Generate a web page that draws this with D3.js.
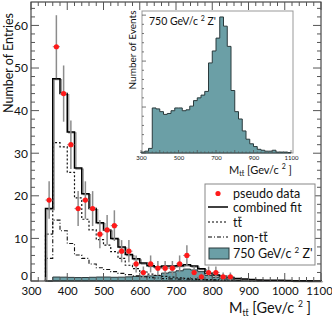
<!DOCTYPE html>
<html><head><meta charset="utf-8">
<script src="https://cdn.jsdelivr.net/npm/d3@7"></script>
<style>
body{margin:0;background:#fff;}
svg text{font-family:Lato,"Open Sans",sans-serif;fill:#111;white-space:pre;}
</style></head>
<body><svg id="c" width="332" height="321"></svg>
<script>
// ---------- data ----------
const binWidth = 20;
const mainBinStart = 340;
const combinedFit = [17,47.5,44,35,26.5,20.5,17,13.7,12,10,8,6.2,5.2,4.2,3.6,3.3,3.5,3.5,3.6,3.8,3.5,2.9,1.9,1.4,1.1,0.8,0.6,0.45,0.35,0.25,0.2,0.15,0.15,0.12,0.08,0.06,0.05,0.04];
const ttbar = [11,32.5,31.5,25.5,19.5,14.5,12,9.7,8.4,6.9,5.3,3.7,2.9,2.1,1.6,1.3,1.1,0.9,0.75,0.6,0.5,0.4,0.33,0.27,0.22,0.18,0.15,0.12,0.1,0.08,0.06,0.05,0.04,0.03,0.02,0.02,0.01,0.01];
const nonTtbar = [5.3,14.3,11.8,8.8,6.1,5.3,4.0,3.1,2.7,2.2,1.8,1.5,1.2,1.0,0.8,0.7,0.55,0.5,0.45,0.4,0.35,0.3,0.27,0.24,0.2,0.18,0.15,0.13,0.11,0.09,0.08,0.07,0.06,0.05,0.04,0.04,0.03,0.03];
const zprimeMain = [0,0.93,0.9,0.85,0.8,0.82,0.87,0.93,0.93,0.87,0.9,0.97,1.08,1.14,1.2,1.27,1.86,2.1,2.4,2.8,2.6,2.2,1.3,0.85,0.7,0.46,0.29,0.19,0.13,0.08,0.06,0.04,0.04,0.06,0.02,0.02,0.02,0.01];
const dataCenters = [350,370,390,410,430,450,470,490,510,530,550,570,590,610,630,650,670,690,710,730,750,770,790,810,830,850];
const dataValues = [19,55,44,32,17,19,17,11,12,13,7,7,4,2,4,3,3,3,4,6,2,1,2,2,1,1];
const dataErrors = [4.4,7.4,6.6,5.7,4.1,4.4,4.1,3.3,3.5,3.6,2.6,2.6,2,1.4,2,1.7,1.7,1.7,2,2.4,1.4,1,1.4,1.4,1,1];
const insetBinStart = 300;
const insetCounts = [1,2,5,49,48,45,42,43,46,49,49,46,47,51,57,60,63,67,98,111,125,148,138,116,68,45,37,24,15,10,7,4,3,2,2,3,1,1,1,0.5];
const xTicks = [300,400,500,600,700,800,900,1000,1100];
const yTicks = [0,10,20,30,40,50,60];
const insetXTicks = [300,500,700,900,1100];

// ---------- layout ----------
const svg = d3.select("#c");
const x = d3.scaleLinear().domain([300,1100]).range([31,321]);
const y = d3.scaleLinear().domain([0,65.5]).range([281,2]);
const TEAL = "#6b9fa6";

function stepPoints(start, vals, xs, ys){
  const pts = [[xs(start), ys(0)]];
  vals.forEach((v,i)=>{
    const a = start + i*binWidth;
    pts.push([xs(a), ys(v)], [xs(a+binWidth), ys(v)]);
  });
  pts.push([xs(start+vals.length*binWidth), ys(0)]);
  return pts;
}
const line = d3.line();

// rich text: pieces {t, size, dy, over}; anchor "start" or "end"
function rich(parent, xx, yy, pieces, anchor){
  const g = parent.append("g");
  let cx = 0;
  pieces.forEach(p=>{
    const el = g.append("text").attr("x",cx).attr("y",p.dy||0).attr("font-size",p.size)
      .attr("xml:space","preserve").style("white-space","pre").text(p.t);
    const w = el.node().getComputedTextLength();
    if(p.over){
      g.append("line").attr("x1",cx+0.5).attr("x2",cx+w-0.5)
        .attr("y1",(p.dy||0)-p.size*0.78).attr("y2",(p.dy||0)-p.size*0.78)
        .attr("stroke","#111").attr("stroke-width",Math.max(0.7,p.size*0.07));
    }
    cx += w;
  });
  const ox = anchor==="end" ? xx-cx : xx;
  g.attr("transform",`translate(${ox},${yy})`);
  return g;
}
function massPieces(big, sub){
  return [{t:"M",size:big},{t:"t",size:sub,dy:big*0.2},{t:"t",size:sub,dy:big*0.2,over:true},
          {t:" [Gev/c ",size:big},{t:"2",size:sub,dy:-big*0.42},{t:" ]",size:big}];
}

// Z' fill in main
svg.append("path").attr("d", line(stepPoints(mainBinStart, zprimeMain, x, y)) + "Z")
  .attr("fill", TEAL).attr("stroke", "#2a3a3c").attr("stroke-width", 1);
// non-ttbar dash-dot
svg.append("path").attr("d", line(stepPoints(mainBinStart, nonTtbar, x, y)))
  .attr("fill","none").attr("stroke","#111").attr("stroke-width",1.1).attr("stroke-dasharray","4,2,1,2");
// ttbar dotted
svg.append("path").attr("d", line(stepPoints(mainBinStart, ttbar, x, y)))
  .attr("fill","none").attr("stroke","#111").attr("stroke-width",1.2).attr("stroke-dasharray","2,2");
// combined fit (with soft shadow)
svg.append("path").attr("d", line(stepPoints(mainBinStart, combinedFit, x, y)))
  .attr("fill","none").attr("stroke","#999").attr("stroke-width",1.2).attr("transform","translate(1.5,1)");
svg.append("path").attr("d", line(stepPoints(mainBinStart, combinedFit, x, y)))
  .attr("fill","none").attr("stroke","#000").attr("stroke-width",1.5);

// data
const dg = svg.append("g");
dataCenters.forEach((c,i)=>{
  const v = dataValues[i], e = dataErrors[i];
  dg.append("line").attr("x1",x(c)).attr("x2",x(c)).attr("y1",y(v+e)).attr("y2",y(Math.max(0,v-e)))
    .attr("stroke","#8c8c8c").attr("stroke-width",1.5);
  dg.append("line").attr("x1",x(c-binWidth/2)).attr("x2",x(c+binWidth/2)).attr("y1",y(v)).attr("y2",y(v))
    .attr("stroke","#8c8c8c").attr("stroke-width",1);
  dg.append("circle").attr("cx",x(c)).attr("cy",y(v)).attr("r",2.6).attr("fill","#ff1a1a");
});

// frame + ticks
svg.append("rect").attr("x",31).attr("y",2).attr("width",290).attr("height",279)
  .attr("fill","none").attr("stroke","#222").attr("stroke-width",1);
const tg = svg.append("g").attr("stroke","#555").attr("stroke-width",1);
d3.range(0,65.5,2).forEach(v=>{
  const L = v%10===0 ? 8 : 4;
  tg.append("line").attr("x1",31).attr("x2",31+L).attr("y1",y(v)).attr("y2",y(v));
  tg.append("line").attr("x1",321).attr("x2",321-L).attr("y1",y(v)).attr("y2",y(v));
});
d3.range(300,1101,20).forEach(v=>{
  const L = v%100===0 ? 8 : 4;
  tg.append("line").attr("x1",x(v)).attr("x2",x(v)).attr("y1",281).attr("y2",281-L);
  tg.append("line").attr("x1",x(v)).attr("x2",x(v)).attr("y1",2).attr("y2",2+L);
});
// axis labels via d3 axes
const xa = svg.append("g").attr("transform","translate(0,281)")
  .call(d3.axisBottom(x).tickValues(xTicks).tickSize(0).tickPadding(6).tickFormat(d3.format("d")));
xa.select(".domain").remove();
xa.selectAll("text").attr("font-size",11.5).attr("font-family","Lato");
xa.selectAll(".tick").filter(d=>d===1100).select("text").attr("dx",-2);
const ya = svg.append("g").attr("transform","translate(31,0)")
  .call(d3.axisLeft(y).tickValues(yTicks).tickSize(0).tickPadding(3).tickFormat(d3.format("d")));
ya.select(".domain").remove();
ya.selectAll("text").attr("font-size",12).attr("font-family","Lato");
ya.selectAll(".tick").filter(d=>d===0).select("text").attr("dy","-0.12em");

svg.append("text").attr("transform","translate(13,63) rotate(-90)").attr("text-anchor","middle")
  .attr("font-size",12.5).text("Number of Entries");

rich(svg, 311, 313, massPieces(14.5, 8.5), "end");

// ---------- inset ----------
const ix = d3.scaleLinear().domain([300,1100]).range([141,291]);
const iy = d3.scaleLinear().domain([0,154.5]).range([153,11]);
svg.append("rect").attr("x",142).attr("y",11).attr("width",151).attr("height",142)
  .attr("fill","#fff").attr("stroke","#999").attr("stroke-width",1);
svg.append("path").attr("d", line(stepPoints(insetBinStart, insetCounts, ix, iy)) + "Z")
  .attr("fill",TEAL).attr("stroke","#2a3a3c").attr("stroke-width",1);
const itg = svg.append("g").attr("stroke","#555").attr("stroke-width",0.8);
d3.range(0,154,10).forEach(v=>{
  const L = v%50===0 ? 4 : 2;
  itg.append("line").attr("x1",142).attr("x2",142+L).attr("y1",iy(v)).attr("y2",iy(v));
});
d3.range(300,1101,20).forEach(v=>{
  const L = v%100===0 ? 3 : 1.5;
  itg.append("line").attr("x1",ix(v)).attr("x2",ix(v)).attr("y1",153).attr("y2",153-L);
});
const ixa = svg.append("g").attr("transform","translate(0,153)")
  .call(d3.axisBottom(ix).tickValues(insetXTicks).tickSize(0).tickPadding(3).tickFormat(d3.format("d")));
ixa.select(".domain").remove();
ixa.selectAll("text").attr("font-size",6).attr("font-family","Lato");

svg.append("text").attr("transform","translate(136,50) rotate(-90)").attr("text-anchor","middle")
  .attr("font-size",10).text("Number of Events");
rich(svg, 149, 25, [{t:"750 GeV/c ",size:10.5},{t:"2",size:7,dy:-4},{t:" Z'",size:10.5}], "start");
rich(svg, 229, 174, massPieces(11, 7), "start");

// ---------- legend ----------
const lg = svg.append("g");
lg.append("rect").attr("x",205).attr("y",184).attr("width",110).attr("height",81)
  .attr("fill","#fff").attr("stroke","#888").attr("stroke-width",1);
const lx = 233, fs = 12.5;
lg.append("circle").attr("cx",218).attr("cy",193.5).attr("r",2.6).attr("fill","#ff1a1a");
lg.append("text").attr("x",lx).attr("y",198).attr("font-size",fs).text("pseudo data");
lg.append("line").attr("x1",208).attr("x2",228).attr("y1",207).attr("y2",207).attr("stroke","#000").attr("stroke-width",1.5);
lg.append("text").attr("x",lx).attr("y",211.5).attr("font-size",fs).text("combined fit");
lg.append("line").attr("x1",208).attr("x2",228).attr("y1",222).attr("y2",222).attr("stroke","#000").attr("stroke-width",1.2).attr("stroke-dasharray","2,2");
rich(lg, lx, 227, [{t:"t",size:fs},{t:"t",size:fs,over:true}], "start");
lg.append("line").attr("x1",208).attr("x2",228).attr("y1",237).attr("y2",237).attr("stroke","#000").attr("stroke-width",1.1).attr("stroke-dasharray","4,2,1,2");
rich(lg, lx, 242, [{t:"non-t",size:fs},{t:"t",size:fs,over:true}], "start");
lg.append("rect").attr("x",209).attr("y",248).attr("width",20).attr("height",11).attr("fill",TEAL).attr("stroke","#2a3a3c");
rich(lg, lx, 258, [{t:"750 GeV/c ",size:fs},{t:"2",size:8,dy:-5},{t:" Z'",size:fs}], "start");
</script></body></html>
